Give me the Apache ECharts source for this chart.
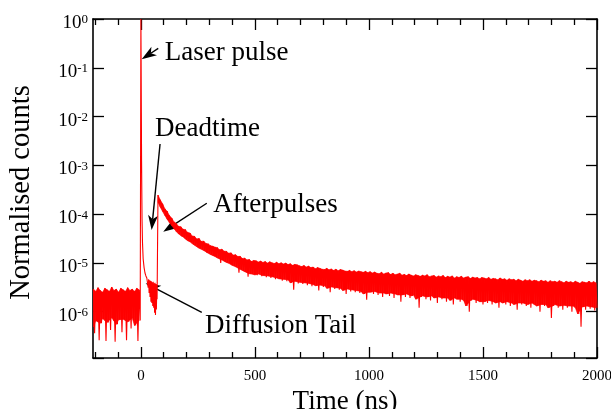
<!DOCTYPE html>
<html><head><meta charset="utf-8">
<script src="https://cdn.jsdelivr.net/npm/echarts@6/dist/echarts.min.js"></script>
<style>html,body{margin:0;padding:0;background:#fff}#c{width:611px;height:409px}</style>
</head><body><div id="c"></div>
<script>
// ---- data (normalised counts) ----
const binWidth = 10;            // ns, TCSPC bin pair spacing
const preStart = -208;          // first pre-pulse bin (ns)
const preHi = [2.9e-6,2.6e-6,3.1e-6,2.7e-6,2.5e-6,3.0e-6,2.8e-6,2.6e-6,3.2e-6,2.7e-6,2.9e-6,2.5e-6,3.0e-6,2.8e-6,2.6e-6,3.1e-6,2.7e-6,2.9e-6,2.6e-6,3.0e-6,2.8e-6];
const preLo = [3.6e-7,6.5e-7,2.6e-7,5.8e-7,7.2e-7,2.5e-7,6.0e-7,4.2e-7,7.5e-7,2.4e-7,5.5e-7,6.8e-7,3.8e-7,7.0e-7,2.6e-7,6.2e-7,4.5e-7,7.4e-7,5.2e-7,2.5e-7,6.6e-7];
const peakTimes  = [0, 1, 2, 3, 5, 7, 10, 14, 18, 22, 26];
const peakCounts = [1.0, 0.15, 1.2e-2, 1.2e-3, 8e-5, 2.6e-5, 1.2e-5, 8e-6, 6.2e-6, 5.4e-6, 4.9e-6];
const tailTimes  = [30,32,34,36,38,40,42,44,46,48,50,52,54,56,58,60,62,64,66,68,70,71];
const tailCounts = [4.8e-6,3.1e-6,4.6e-6,2.4e-6,4.4e-6,2.0e-6,4.3e-6,1.6e-6,4.2e-6,1.5e-6,4.0e-6,1.3e-6,4.1e-6,1.2e-6,3.8e-6,0.95e-6,3.9e-6,0.85e-6,3.7e-6,1.1e-6,3.6e-6,1.8e-6];
const afterStart = 75;          // first afterpulse bin (ns)
const afterHi = [
 2.45e-4,1.95e-4,1.62e-4,1.28e-4,1.14e-4,9.3e-5,8.3e-5,6.9e-5,6.4e-5,5.6e-5,
 5.5e-5,4.9e-5,4.8e-5,4.2e-5,4.1e-5,3.55e-5,3.5e-5,3.1e-5,3.16e-5,2.75e-5,
 2.8e-5,2.5e-5,2.45e-5,2.25e-5,2.2e-5,2.1e-5,2.05e-5,1.86e-5,1.9e-5,1.74e-5,
 1.72e-5,1.58e-5,1.6e-5,1.45e-5,1.47e-5,1.35e-5,1.36e-5,1.23e-5,1.25e-5,1.15e-5,
 1.17e-5,1.07e-5,1.12e-5,
 1.10e-5,1.04e-5,1.09e-5,1.02e-5,1.06e-5,9.9e-6,1.05e-5,1.0e-5,9.7e-6,1.03e-5,
 9.6e-6,1.0e-5,9.5e-6,9.9e-6,9.2e-6,9.6e-6,8.9e-6,9.3e-6,9.1e-6,8.7e-6,
 8.4e-6,8.8e-6,8.2e-6,8.6e-6,8.0e-6,8.2e-6,7.6e-6,8.0e-6,7.7e-6,7.4e-6,
 7.3e-6,7.7e-6,7.2e-6,7.5e-6,7.0e-6,7.4e-6,6.9e-6,7.3e-6,7.1e-6,6.8e-6,
 6.7e-6,7.0e-6,6.6e-6,6.9e-6,6.5e-6,6.8e-6,6.6e-6,6.4e-6,6.7e-6,6.3e-6,
 6.6e-6,6.2e-6,6.5e-6,6.1e-6,6.0e-6,6.4e-6,5.9e-6,6.2e-6,6.3e-6,5.8e-6,
 6.1e-6,5.7e-6,5.9e-6,6.1e-6,5.6e-6,5.8e-6,5.5e-6,5.9e-6,5.6e-6,5.4e-6,
 5.7e-6,5.5e-6,5.3e-6,5.6e-6,5.4e-6,5.7e-6,5.2e-6,5.4e-6,5.5e-6,5.1e-6,
 5.4e-6,5.2e-6,5.5e-6,5.0e-6,5.3e-6,5.1e-6,5.4e-6,4.9e-6,5.2e-6,5.0e-6,
 5.3e-6,4.9e-6,5.1e-6,5.2e-6,4.8e-6,5.1e-6,4.9e-6,5.0e-6,4.7e-6,5.0e-6,
 4.9e-6,4.7e-6,5.0e-6,4.6e-6,4.8e-6,4.7e-6,4.5e-6,4.9e-6,4.6e-6,4.7e-6,
 4.4e-6,4.7e-6,4.5e-6,4.6e-6,4.3e-6,4.6e-6,4.4e-6,4.2e-6,4.5e-6,4.3e-6,
 4.5e-6,4.2e-6,4.4e-6,4.3e-6,4.1e-6,4.4e-6,4.2e-6,4.3e-6,4.0e-6,4.3e-6,
 4.1e-6,4.2e-6,4.0e-6,4.3e-6,4.1e-6,3.9e-6,4.2e-6,4.0e-6,4.1e-6,3.9e-6,
 4.2e-6,4.0e-6,3.8e-6,4.1e-6,4.0e-6,3.9e-6,4.2e-6,3.9e-6,4.1e-6,3.9e-6];
const afterLo = [
 1.75e-4,1.38e-4,1.1e-4,9.4e-5,7.7e-5,6.6e-5,5.8e-5,4.8e-5,4.4e-5,3.9e-5,
 3.5e-5,3.4e-5,3.0e-5,2.8e-5,2.7e-5,2.4e-5,2.3e-5,2.1e-5,2.0e-5,1.9e-5,
 1.8e-5,1.6e-5,1.58e-5,1.48e-5,1.38e-5,1.35e-5,1.26e-5,1.0e-5,1.15e-5,1.05e-5,
 1.02e-5,9.8e-6,8.9e-6,8.7e-6,8.3e-6,6.3e-6,7.4e-6,6.9e-6,6.6e-6,5.2e-6,
 6.0e-6,5.9e-6,5.6e-6,
 5.6e-6,5.9e-6,5.3e-6,5.5e-6,5.1e-6,5.4e-6,4.9e-6,5.2e-6,4.6e-6,4.9e-6,
 4.7e-6,4.3e-6,4.6e-6,4.2e-6,4.5e-6,3.9e-6,2.8e-6,4.2e-6,3.8e-6,4.0e-6,
 3.7e-6,3.9e-6,3.5e-6,3.8e-6,3.3e-6,3.6e-6,3.4e-6,2.7e-6,3.5e-6,3.2e-6,
 3.4e-6,3.0e-6,2.5e-6,3.2e-6,2.9e-6,3.1e-6,2.8e-6,3.0e-6,2.7e-6,2.3e-6,
 2.9e-6,2.6e-6,2.8e-6,2.5e-6,2.7e-6,2.4e-6,2.6e-6,2.3e-6,1.75e-6,2.5e-6,
 2.5e-6,2.3e-6,2.6e-6,2.2e-6,2.4e-6,2.0e-6,2.4e-6,2.3e-6,2.1e-6,2.4e-6,
 1.9e-6,2.3e-6,2.2e-6,1.6e-6,2.2e-6,2.0e-6,2.3e-6,1.9e-6,2.1e-6,2.2e-6,
 1.8e-6,1.2e-6,2.0e-6,2.1e-6,1.8e-6,2.0e-6,1.7e-6,2.1e-6,1.9e-6,1.5e-6,
 2.0e-6,1.8e-6,1.9e-6,1.6e-6,1.9e-6,1.7e-6,1.4e-6,1.9e-6,1.8e-6,1.6e-6,
 1.8e-6,1.7e-6,1.3e-6,1.0e-6,1.7e-6,1.8e-6,1.5e-6,1.7e-6,1.6e-6,1.4e-6,
 1.6e-6,1.5e-6,1.7e-6,1.4e-6,1.6e-6,1.5e-6,1.2e-6,1.6e-6,1.5e-6,1.4e-6,
 1.6e-6,1.3e-6,1.5e-6,1.4e-6,1.1e-6,1.5e-6,1.4e-6,1.5e-6,1.3e-6,1.4e-6,
 1.2e-6,1.5e-6,1.4e-6,1.3e-6,1.0e-6,1.4e-6,1.3e-6,1.4e-6,1.2e-6,7.4e-7,
 1.3e-6,1.4e-6,1.2e-6,1.3e-6,1.1e-6,1.35e-6,1.2e-6,1.3e-6,1.0e-6,1.3e-6,
 1.2e-6,0.9e-6,4.9e-7,1.25e-6,1.1e-6,1.3e-6,1.15e-6,1.25e-6,1.05e-6,1.2e-6];
const xMajorTicks = [0, 500, 1000, 1500, 2000];
const xMinorTicks = [-200,-100,100,200,300,400,600,700,800,900,1100,1200,1300,1400,1600,1700,1800,1900];
// annotations: label, text anchor [ns, counts], arrow tail, arrow tip
const annotLabels = ['Laser pulse', 'Deadtime', 'Afterpulses', 'Diffusion Tail'];
const annotTextAt = [[105, 0.199], [62, 5.7e-3], [317, 1.54e-4], [281, 5.05e-7]];
const annotTail   = [[76, 0.25], [84, 2.74e-3], [289, 1.67e-4], [267, 9.7e-7]];
const annotTip    = [[3.5, 0.149], [47, 4.7e-5], [98, 4.36e-5], [21, 3.8e-6]];

// ---- build series data ----
const data = [];
preHi.forEach((h, i) => { const t = preStart + i * binWidth; data.push([t, h]); data.push([t + binWidth / 2, preLo[i]]); });
peakTimes.forEach((t, i) => data.push([t, peakCounts[i]]));
tailTimes.forEach((t, i) => data.push([t, tailCounts[i]]));
afterHi.forEach((h, i) => { const t = afterStart + i * binWidth; data.push([t, h]); data.push([t + binWidth / 2, afterLo[i]]); });

// solid core of the noise band: rows [t, low, high, tNext, lowNext, highNext]
function bandRows(start, hi, lo) {
  const core = hi.map((h, i) => {
    const a = lo[Math.max(0, i - 1)], c = lo[Math.min(lo.length - 1, i + 1)];
    return [start + i * binWidth, Math.min(Math.max(lo[i], Math.sqrt(a * c)), h), h];
  });
  const rows = [];
  for (let i = 0; i + 1 < core.length; i++) rows.push(core[i].concat(core[i + 1]));
  return rows;
}
const bandData = bandRows(preStart, preHi, preLo).concat(bandRows(afterStart, afterHi, afterLo));

const FONT = 'Liberation Serif';
const black = '#000';
const RED = '#ff0000';
function xAx(pos, ticks, len, line, labels, name) {
  return {
    type: 'value', position: pos, min: -210, max: 2000,
    axisLine: { show: line, onZero: false, lineStyle: { color: black, width: 1.6 } },
    axisTick: { show: true, inside: true, length: len, customValues: ticks, lineStyle: { color: black, width: 1.3 } },
    axisLabel: labels ? { customValues: xMajorTicks, formatter: v => String(v), color: black, fontFamily: FONT, fontSize: 15, margin: 11 } : { show: false },
    splitLine: { show: false },
    name: name || '', nameLocation: 'middle', nameGap: 25,
    nameTextStyle: { fontFamily: FONT, fontSize: 27, color: black }
  };
}
function yAx(pos, labels, name) {
  return {
    type: 'log', logBase: 10, position: pos, min: 1.12e-7, max: 1,
    axisLine: { show: true, onZero: false, lineStyle: { color: black, width: 1.6 } },
    axisTick: { show: true, inside: true, length: 11, lineStyle: { color: black, width: 1.3 } },
    minorTick: { show: false },
    splitLine: { show: false },
    axisLabel: labels ? {
      margin: 5, padding: [8, 0, 0, 0],
      formatter: v => {
        const l = Math.log10(v), e = Math.round(l);
        if (Math.abs(l - e) > 1e-6) return '';
        return '{b|10}{s|' + e + '}';
      },
      rich: {
        b: { fontSize: 19, fontFamily: FONT, color: black, lineHeight: 19, verticalAlign: 'bottom' },
        s: { fontSize: 13, fontFamily: FONT, color: black, lineHeight: 13, verticalAlign: 'top', padding: [0, 0, 10, 0] }
      }
    } : { show: false },
    name: name || '', nameLocation: 'middle', nameGap: 57, nameRotate: 90,
    nameTextStyle: { fontFamily: FONT, fontSize: 28.5, color: black, padding: [0, 8, 0, 0] }
  };
}

const chart = echarts.init(document.getElementById('c'), null, { renderer: 'canvas' });
chart.setOption({
  animation: false,
  backgroundColor: '#fff',
  grid: { left: 93, right: 14, top: 19, bottom: 51, containLabel: false, outerBoundsMode: 'none' },
  xAxis: [
    xAx('bottom', xMajorTicks, 11, true, true, 'Time (ns)'),
    xAx('bottom', xMinorTicks, 6, false, false),
    xAx('top', xMajorTicks, 11, true, false),
    xAx('top', xMinorTicks, 6, false, false)
  ],
  yAxis: [ yAx('left', true, 'Normalised counts'), yAx('right', false) ],
  series: [
    {
      type: 'custom', xAxisIndex: 0, yAxisIndex: 0, data: bandData, silent: true, clip: true,
      encode: { x: [0, 3], y: [1, 2, 4, 5] },
      renderItem: (params, api) => {
        const p1 = api.coord([api.value(0), api.value(1)]);
        const p2 = api.coord([api.value(0), api.value(2)]);
        const p3 = api.coord([api.value(3), api.value(5)]);
        const p4 = api.coord([api.value(3), api.value(4)]);
        return { type: 'polygon', shape: { points: [p1, p2, p3, p4] }, style: { fill: RED, stroke: RED, lineWidth: 0.6 } };
      }
    },
    {
      type: 'line', xAxisIndex: 0, yAxisIndex: 0, data: data,
      symbol: 'none', showSymbol: false, smooth: false, clip: true,
      lineStyle: { color: RED, width: 1.1 }
    }
  ]
});

// ---- annotations (positioned in data coordinates) ----
const g = [];
annotLabels.forEach((txt, i) => {
  const p = chart.convertToPixel({ xAxisIndex: 0, yAxisIndex: 0 }, annotTextAt[i]);
  const a = chart.convertToPixel({ xAxisIndex: 0, yAxisIndex: 0 }, annotTail[i]);
  const b = chart.convertToPixel({ xAxisIndex: 0, yAxisIndex: 0 }, annotTip[i]);
  g.push({ type: 'text', x: p[0], y: p[1], style: { text: txt, font: '27px "' + FONT + '"', fill: black, align: 'left', verticalAlign: 'middle' } });
  const dx = b[0] - a[0], dy = b[1] - a[1], L = Math.hypot(dx, dy), ux = dx / L, uy = dy / L;
  const hl = 15, hw = 5, notch = 11;
  const bx = b[0] - ux * hl, by = b[1] - uy * hl;
  const nx = b[0] - ux * notch, ny = b[1] - uy * notch;
  g.push({ type: 'line', shape: { x1: a[0], y1: a[1], x2: nx, y2: ny }, style: { stroke: black, lineWidth: 1.4 } });
  g.push({ type: 'polygon', shape: { points: [[b[0], b[1]], [bx - uy * hw, by + ux * hw], [nx, ny], [bx + uy * hw, by - ux * hw]] }, style: { fill: black } });
});
chart.setOption({ graphic: g });
</script></body></html>
